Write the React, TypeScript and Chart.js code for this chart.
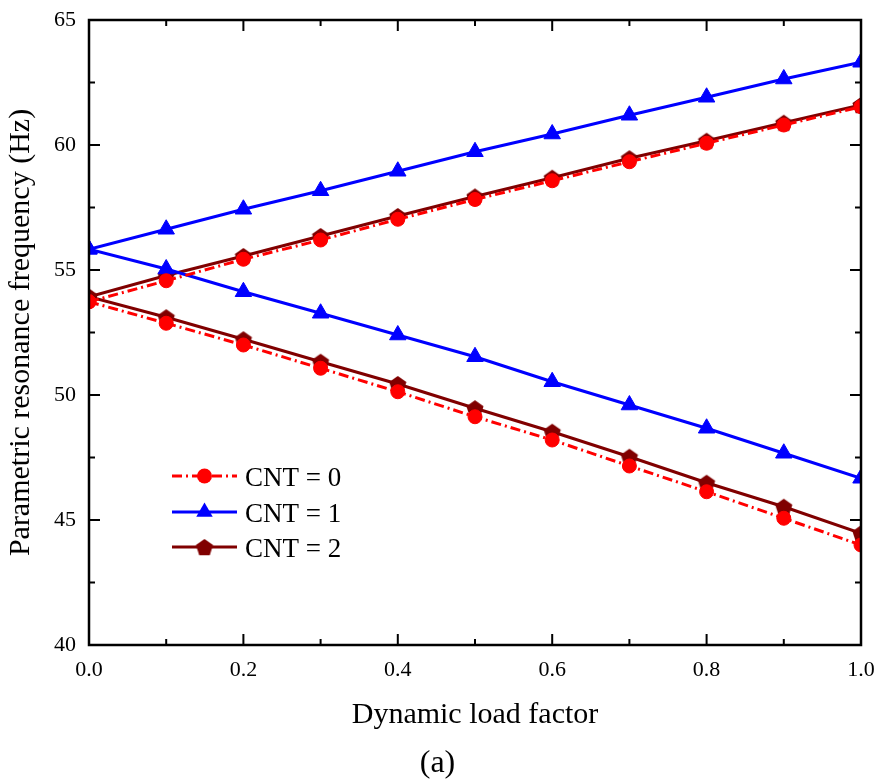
import React, { useEffect, useRef } from "react";
import { Chart, registerables } from "chart.js";

Chart.register(...registerables);

const loadFactor = [0, 0.1, 0.2, 0.3, 0.4, 0.5, 0.6, 0.7, 0.8, 0.9, 1.0];
const cnt0Upper = [53.73, 54.57, 55.43, 56.2, 57.03, 57.82, 58.57, 59.33, 60.07, 60.8, 61.53];
const cnt0Lower = [53.73, 52.87, 52.0, 51.07, 50.13, 49.13, 48.2, 47.16, 46.13, 45.07, 44.0];
const cnt1Upper = [55.83, 56.63, 57.43, 58.17, 58.95, 59.73, 60.44, 61.19, 61.91, 62.64, 63.31];
const cnt1Lower = [55.83, 55.04, 54.13, 53.27, 52.4, 51.53, 50.53, 49.6, 48.67, 47.67, 46.67];
const cnt2Upper = [53.93, 54.78, 55.56, 56.36, 57.16, 57.94, 58.69, 59.47, 60.17, 60.89, 61.6];
const cnt2Lower = [53.93, 53.11, 52.23, 51.33, 50.44, 49.47, 48.53, 47.53, 46.49, 45.53, 44.47];

const seriesNames = ["CNT = 0", "CNT = 1", "CNT = 2"];
const xTitle = "Dynamic load factor";
const yTitle = "Parametric resonance frequency (Hz)";
const panelLabel = "(a)";

const FONT = "'Liberation Serif', 'Times New Roman', serif";
const RED = "#ff0000";
const BLUE = "#0000ff";
const MAROON = "#800000";
const DASHDOT = [10, 4, 2, 4];

function makePentagon(color: string, r: number): HTMLCanvasElement {
  const c = document.createElement("canvas");
  const size = Math.ceil(r * 2 + 2);
  c.width = size;
  c.height = size;
  const ctx = c.getContext("2d")!;
  ctx.fillStyle = color;
  ctx.beginPath();
  for (let i = 0; i < 5; i++) {
    const a = -Math.PI / 2 + (i * 2 * Math.PI) / 5;
    const px = size / 2 + r * Math.cos(a);
    const py = size / 2 + r * Math.sin(a) + r * 0.1;
    if (i === 0) ctx.moveTo(px, py);
    else ctx.lineTo(px, py);
  }
  ctx.closePath();
  ctx.fill();
  return c;
}

function toXY(ys: number[]) {
  return ys.map((y, i) => ({ x: loadFactor[i], y }));
}

export default function App() {
  const ref = useRef<HTMLCanvasElement | null>(null);

  useEffect(() => {
    document.body.style.margin = "0";
    const canvas = ref.current;
    if (!canvas) return;
    const pent = makePentagon(MAROON, 9);

    const circleStyle = (label: string, data: number[]) => ({
      label,
      data: toXY(data),
      borderColor: RED,
      backgroundColor: RED,
      borderWidth: 3,
      borderDash: DASHDOT,
      pointStyle: "circle",
      pointRadius: 7,
      pointBorderWidth: 1,
      pointBackgroundColor: RED,
      pointBorderColor: RED,
    });
    const triStyle = (label: string, data: number[]) => ({
      label,
      data: toXY(data),
      borderColor: BLUE,
      backgroundColor: BLUE,
      borderWidth: 3,
      pointStyle: "triangle",
      pointRadius: 9.5,
      pointBorderWidth: 1,
      pointBackgroundColor: BLUE,
      pointBorderColor: BLUE,
    });
    const pentStyle = (label: string, data: number[]) => ({
      label,
      data: toXY(data),
      borderColor: MAROON,
      backgroundColor: MAROON,
      borderWidth: 3,
      pointStyle: pent,
      pointRadius: 9,
    });

    const frameAndLegend = {
      id: "frameAndLegend",
      afterDatasetsDraw(chart: any) {
        const { ctx, chartArea } = chart;
        const { left, right, top, bottom } = chartArea;
        const xs = chart.scales.x;
        const ys = chart.scales.y;
        ctx.save();
        ctx.strokeStyle = "#000";
        ctx.lineWidth = 2;
        ctx.setLineDash([]);
        xs.ticks.forEach((t: any) => {
          const px = xs.getPixelForValue(t.value);
          const major = Math.round(t.value * 10) % 2 === 0;
          const len = major ? 11 : 6;
          ctx.beginPath();
          ctx.moveTo(px, bottom);
          ctx.lineTo(px, bottom - len);
          ctx.moveTo(px, top);
          ctx.lineTo(px, top + len);
          ctx.stroke();
        });
        ys.ticks.forEach((t: any) => {
          const py = ys.getPixelForValue(t.value);
          const major = Math.abs(t.value / 5 - Math.round(t.value / 5)) < 1e-6;
          const len = major ? 11 : 6;
          ctx.beginPath();
          ctx.moveTo(left, py);
          ctx.lineTo(left + len, py);
          ctx.moveTo(right, py);
          ctx.lineTo(right - len, py);
          ctx.stroke();
        });
        ctx.lineWidth = 2.5;
        ctx.strokeRect(left, top, right - left, bottom - top);

        const items = [
          { color: RED, dash: DASHDOT, marker: "circle" },
          { color: BLUE, dash: [], marker: "triangle" },
          { color: MAROON, dash: [], marker: "pentagon" },
        ];
        const lx0 = left + 83;
        const lx1 = left + 148;
        const mx = (lx0 + lx1) / 2;
        const rowY = [bottom - 169, bottom - 133, bottom - 98];
        items.forEach((it, i) => {
          const y = rowY[i];
          ctx.strokeStyle = it.color;
          ctx.lineWidth = 3;
          ctx.setLineDash(it.dash);
          ctx.beginPath();
          ctx.moveTo(lx0, y);
          ctx.lineTo(lx1, y);
          ctx.stroke();
          ctx.setLineDash([]);
          ctx.fillStyle = it.color;
          if (it.marker === "circle") {
            ctx.beginPath();
            ctx.arc(mx, y, 7.5, 0, Math.PI * 2);
            ctx.fill();
          } else if (it.marker === "triangle") {
            const r = 9.5;
            ctx.beginPath();
            for (let k = 0; k < 3; k++) {
              const a = -Math.PI / 2 + (k * 2 * Math.PI) / 3;
              const px = mx + r * Math.cos(a);
              const py = y + r * Math.sin(a);
              if (k === 0) ctx.moveTo(px, py);
              else ctx.lineTo(px, py);
            }
            ctx.closePath();
            ctx.fill();
          } else {
            ctx.drawImage(pent, mx - pent.width / 2, y - pent.height / 2);
          }
          ctx.fillStyle = "#000";
          ctx.font = `27px ${FONT}`;
          ctx.textAlign = "left";
          ctx.textBaseline = "alphabetic";
          ctx.fillText(seriesNames[i], lx1 + 8, y + 10);
        });

        ctx.fillStyle = "#000";
        ctx.font = `32px ${FONT}`;
        ctx.textAlign = "center";
        ctx.textBaseline = "alphabetic";
        ctx.fillText(panelLabel, 437.5, 772);
        ctx.restore();
      },
    };

    const chart = new Chart(canvas, {
      type: "line",
      data: {
        datasets: [
          circleStyle(seriesNames[0], cnt0Upper),
          circleStyle(seriesNames[0], cnt0Lower),
          triStyle(seriesNames[1], cnt1Upper),
          triStyle(seriesNames[1], cnt1Lower),
          pentStyle(seriesNames[2], cnt2Upper),
          pentStyle(seriesNames[2], cnt2Lower),
        ] as any,
      },
      options: {
        responsive: false,
        animation: false,
        devicePixelRatio: 1,
        layout: { autoPadding: false, padding: { left: 0, right: 16, top: 20, bottom: 0 } },
        plugins: {
          legend: { display: false },
          tooltip: { enabled: false },
        },
        elements: { line: { tension: 0 } },
        scales: {
          x: {
            type: "linear",
            min: 0,
            max: 1,
            grid: { display: false, drawTicks: false },
            border: { display: false },
            ticks: {
              stepSize: 0.1,
              padding: 12,
              color: "#000",
              font: { family: FONT, size: 22 },
              maxRotation: 0,
              autoSkip: false,
              callback: (v: any) => {
                const n = Math.round(Number(v) * 10);
                return n % 2 === 0 ? (n / 10).toFixed(1) : "";
              },
            },
            title: {
              display: true,
              text: xTitle,
              color: "#000",
              font: { family: FONT, size: 30 },
              padding: { top: 0, bottom: 48.5 },
            },
            afterFit: (s: any) => {
              s.height = 137;
              s.paddingLeft = 0;
              s.paddingRight = 0;
            },
          },
          y: {
            type: "linear",
            min: 40,
            max: 65,
            grid: { display: false, drawTicks: false },
            border: { display: false },
            ticks: {
              stepSize: 2.5,
              padding: 13,
              color: "#000",
              font: { family: FONT, size: 22 },
              autoSkip: false,
              callback: (v: any) => {
                const n = Number(v);
                return Math.abs(n / 5 - Math.round(n / 5)) < 1e-6 ? String(Math.round(n)) : "";
              },
            },
            title: {
              display: true,
              text: yTitle,
              color: "#000",
              font: { family: FONT, size: 30 },
              padding: { top: 3.5, bottom: 0 },
            },
            afterFit: (s: any) => {
              s.width = 89;
              s.paddingTop = 0;
              s.paddingBottom = 0;
            },
          },
        },
      },
      plugins: [frameAndLegend],
    });

    return () => {
      chart.destroy();
    };
  }, []);

  return (
    <div style={{ width: 877, height: 782, background: "#fff" }}>
      <canvas ref={ref} width={877} height={782} style={{ width: 877, height: 782, display: "block" }} />
    </div>
  );
}
